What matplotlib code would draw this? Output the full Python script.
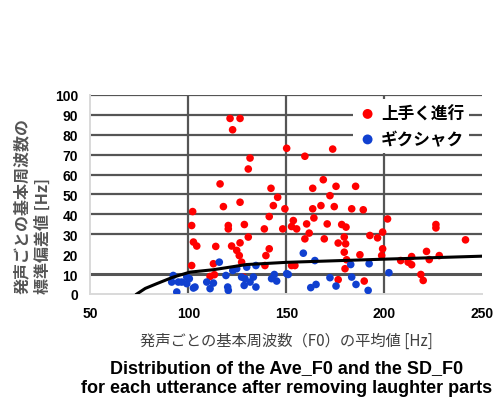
import numpy as np
import matplotlib
matplotlib.use('Agg')
import matplotlib.pyplot as plt

# 上手く進行 (red) : mean F0 [Hz], SD of F0 [Hz]
good_x = [121.3, 126.4, 122.6, 150.2, 131.5, 130.6, 116.2, 142.2, 145.6, 159.5,
          173.7, 168.9, 163.5, 175.4, 185.4, 172.3, 126.4, 117.9, 102.2, 143.4,
          149.3, 141.3, 101.7, 120.4, 120.4, 128.6, 138.8, 148.2, 130.6, 102.6,
          104.3, 114.0, 122.1, 126.4, 124.7, 126.0, 141.3, 139.6, 101.7, 112.8,
          127.2, 139.1, 113.3, 111.1, 128.0, 163.5, 167.7, 174.5, 183.4, 189.3,
          201.7, 164.1, 153.6, 152.7, 155.3, 160.4, 170.9, 178.3, 180.5, 161.7,
          159.5, 169.4, 179.6, 192.7, 196.6, 199.2, 176.5, 180.3, 199.2, 179.6,
          187.6, 198.7, 180.8, 152.7, 154.4, 180.0, 176.5, 189.8, 226.4, 226.4,
          241.5, 214.0, 221.6, 223.0, 228.1, 208.4, 212.2, 214.0, 218.7, 219.9]
good_y = [88.2, 88.2, 82.5, 73.2, 68.3, 62.8, 55.3, 53.1, 48.6, 69.2,
          72.8, 57.4, 53.1, 54.1, 54.1, 49.4, 46.1, 43.9, 41.4, 44.4,
          42.8, 38.9, 34.4, 34.4, 32.7, 34.9, 32.7, 32.7, 28.6, 26.1,
          24.1, 23.9, 24.1, 25.7, 21.9, 19.3, 22.7, 19.3, 14.3, 15.2,
          16.0, 14.3, 9.7, 8.8, 8.5, 42.8, 44.4, 43.9, 42.8, 42.3,
          37.7, 38.2, 36.9, 33.9, 32.7, 35.2, 35.2, 34.9, 33.6, 30.6,
          27.7, 27.7, 28.6, 29.4, 28.2, 31.1, 25.6, 25.2, 22.7, 21.0,
          19.7, 19.3, 17.2, 14.3, 14.3, 12.7, 7.2, 6.5, 34.9, 33.2,
          27.2, 18.8, 21.4, 17.3, 19.3, 16.8, 16.0, 14.7, 9.8, 6.8]

# ギクシャク (blue)
bad_x = [92.3, 94.9, 94.1, 91.5, 99.2, 99.2, 96.6, 100.5, 103.4, 102.6,
         109.4, 112.8, 111.1, 115.8, 122.7, 124.7, 129.8, 134.5, 119.2, 120.1,
         120.4, 128.9, 131.5, 134.5, 127.2, 128.5, 133.2, 142.5, 145.1, 143.9,
         150.2, 158.7, 164.6, 182.9, 192.3, 151.0, 172.3, 183.4, 165.2, 162.5,
         175.4, 185.6, 191.8, 202.4]
bad_y = [9.3, 6.0, 1.0, 6.0, 5.2, 8.5, 6.0, 7.7, 3.5, 3.0,
         6.0, 5.5, 2.7, 16.0, 11.8, 12.7, 13.5, 14.3, 9.3, 3.5,
         1.8, 7.7, 6.0, 3.5, 8.5, 4.3, 8.5, 7.7, 6.5, 9.8,
         10.2, 20.5, 16.8, 14.8, 15.2, 9.8, 8.2, 8.5, 4.8, 3.2,
         4.0, 4.8, 1.8, 10.7]

# trend line
trend_x = [73.7, 78.0, 83.9, 92.3, 100.9, 112.8, 129.8, 150.0, 200.0, 250.0]
trend_y = [0.0, 2.8, 5.2, 8.5, 11.0, 12.2, 14.8, 15.9, 17.5, 19.0]

x_ticks = [50, 100, 150, 200, 250]
y_ticks = list(range(0, 101, 10))
grid_y = [10, 30, 40, 50, 60, 70, 80, 90, 100]
grid_x = [100, 150, 200]

jp = ['Noto Sans CJK JP', 'DejaVu Sans']
num = ['Liberation Sans', 'DejaVu Sans']

fig = plt.figure(figsize=(4.94, 4.10), dpi=100)
ax = fig.add_axes([0.183, 0.2805, 0.793, 0.4855])

for v in grid_y:
    ax.axhline(v, color='#555555', lw=1.6 if v != 10 else 2.2, zorder=1)
for v in grid_x:
    ax.axvline(v, color='#555555', lw=1.6, zorder=1)

ax.scatter(good_x, good_y, s=30, color='#ff0000', edgecolors='none', zorder=3, label='上手く進行')
ax.scatter(bad_x, bad_y, s=30, color='#1040d0', edgecolors='none', zorder=3, label='ギクシャク')
ax.plot(trend_x, trend_y, color='black', lw=2.2, zorder=4)

ax.set_xlim(50, 250)
ax.set_ylim(0, 100)
ax.set_xticks(x_ticks)
ax.set_yticks(y_ticks)
ax.tick_params(length=0)
ax.tick_params(axis='y', pad=9)
ax.tick_params(axis='x', pad=9)
for lab in ax.get_xticklabels() + ax.get_yticklabels():
    lab.set_family(num)
    lab.set_fontweight('bold')
    lab.set_fontsize(10)

for s in ['top', 'right']:
    ax.spines[s].set_visible(False)
for s in ['left', 'bottom']:
    ax.spines[s].set_color('#d9d9d9')
    ax.spines[s].set_linewidth(1.4)

leg = ax.legend(loc='upper left', bbox_to_anchor=(0.648, 1.02), frameon=True,
                facecolor='white', edgecolor='none', framealpha=1,
                prop={'family': jp, 'size': 12, 'weight': 'bold'},
                markerscale=1.3, handletextpad=0.2, labelspacing=0.45,
                borderpad=0.3, handlelength=1.2)
leg.set_zorder(5)

ax.set_xlabel('発声ごとの基本周波数（F0）の平均値 [Hz]', family=jp, fontsize=11,
              color='#404040', labelpad=8)
fig.text(0.066, 0.497, '発声ごとの基本周波数の\n標準偏差値 [Hz]', family=jp,
         fontsize=11.5, color='#555555', fontweight='bold', rotation=90,
         ha='center', va='center', multialignment='left', linespacing=1.35)

fig.text(0.581, 0.077, 'Distribution of the Ave_F0 and the SD_F0\nfor each utterance after removing laughter parts',
         family=num, fontsize=13, fontweight='bold', ha='center', va='center',
         linespacing=1.25)

fig.savefig('out.png', dpi=100)
